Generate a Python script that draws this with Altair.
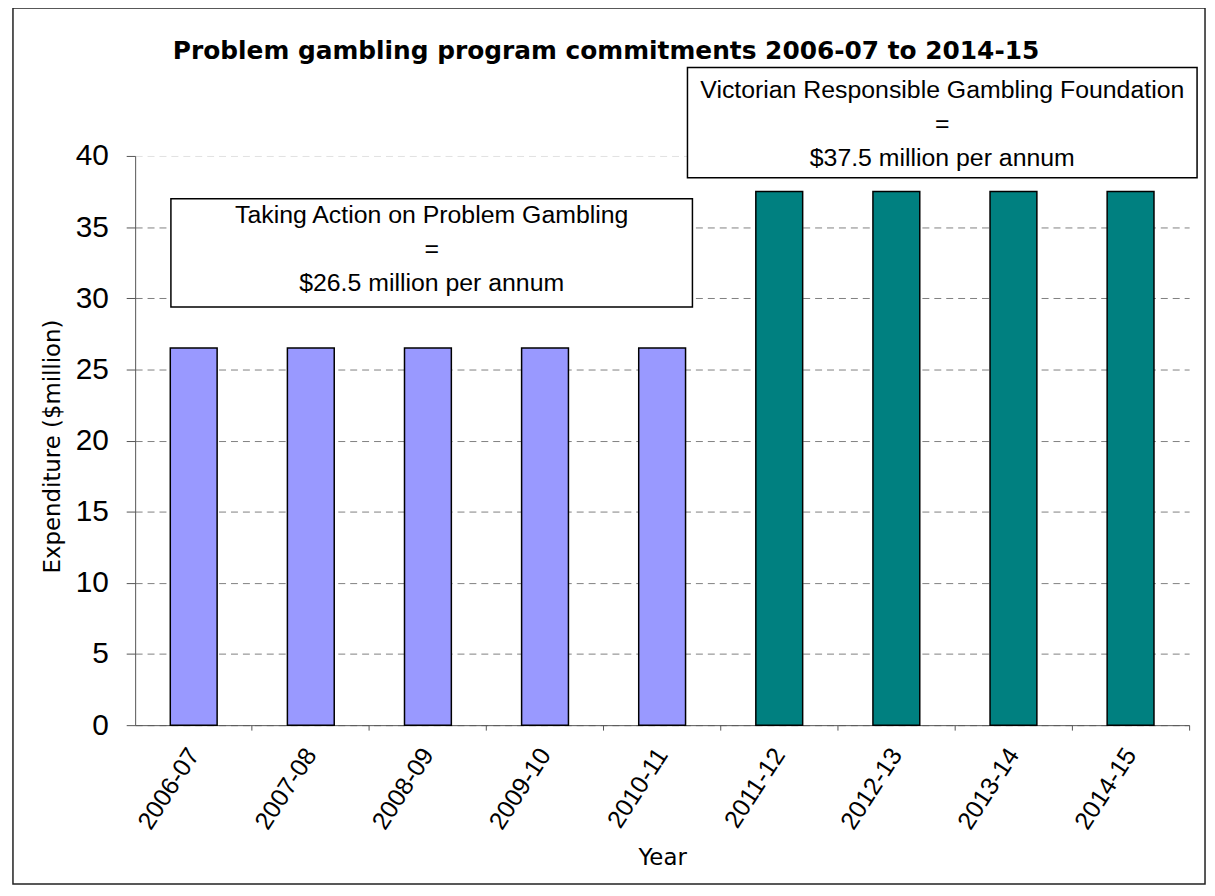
import altair as alt
import pandas as pd

# ---- data ----
years = ["2006-07", "2007-08", "2008-09", "2009-10", "2010-11",
         "2011-12", "2012-13", "2013-14", "2014-15"]
expenditure = [26.5, 26.5, 26.5, 26.5, 26.5, 37.5, 37.5, 37.5, 37.5]
program_of_year = [
    "Taking Action on Problem Gambling",
    "Taking Action on Problem Gambling",
    "Taking Action on Problem Gambling",
    "Taking Action on Problem Gambling",
    "Taking Action on Problem Gambling",
    "Victorian Responsible Gambling Foundation",
    "Victorian Responsible Gambling Foundation",
    "Victorian Responsible Gambling Foundation",
    "Victorian Responsible Gambling Foundation",
]
program_names = ["Taking Action on Problem Gambling",
                 "Victorian Responsible Gambling Foundation"]
program_amounts = ["$26.5 million per annum", "$37.5 million per annum"]
program_colors = ["#9999FF", "#008080"]
y_ticks = [0, 5, 10, 15, 20, 25, 30, 35, 40]
chart_title = "Problem gambling program commitments 2006-07 to 2014-15"
x_title = "Year"
y_title = "Expenditure ($million)"

df = pd.DataFrame({"year": years, "value": expenditure, "program": program_of_year})
one = pd.DataFrame({"k": [0]})

ARIAL = "Liberation Sans"
VERDANA = "DejaVu Sans"

bars = alt.Chart(df).mark_bar(stroke="black", strokeWidth=1.5).encode(
    x=alt.X("year:N", sort=years,
            scale=alt.Scale(paddingInner=0.6, paddingOuter=0.3),
            axis=alt.Axis(title=x_title, labelAngle=-57, labelAlign="right",
                          labelBaseline="middle", labelFont=ARIAL, labelFontSize=25,
                          labelColor="black", labelPadding=20, tickSize=5,
                          bandPosition=1.75,
                          tickColor="#555555", domainColor="#555555",
                          titleFont=VERDANA, titleFontSize=23, titleFontWeight="normal",
                          titleColor="black", titleY=133, titleBaseline="middle",
                          grid=False)),
    y=alt.Y("value:Q", scale=alt.Scale(domain=[0, 40], nice=False),
            axis=alt.Axis(values=y_ticks, title=y_title, tickSize=9, labelPadding=18,
                          labelFont=ARIAL, labelFontSize=30, labelColor="black",
                          tickColor="#555555", domainColor="#555555",
                          grid=True, gridDash=[7, 5], gridColor="#808080",
                          gridOpacity={"condition": {"test": "datum.value == 40", "value": 0.25},
                                       "value": 1},
                          titleFont=VERDANA, titleFontSize=23, titleFontWeight="normal",
                          titleColor="black", titleX=-83, titleY=292,
                          titleBaseline="middle", titleAlign="center")),
    color=alt.Color("program:N", scale=alt.Scale(domain=program_names, range=program_colors),
                    legend=None),
)

frame = alt.Chart(one).mark_rect(fillOpacity=0, stroke="#222222", strokeWidth=1.5).encode(
    x=alt.value(-123), x2=alt.value(1077), y=alt.value(-149), y2=alt.value(733))

box_left = alt.Chart(one).mark_rect(fill="white", stroke="black", strokeWidth=1.5).encode(
    x=alt.value(36), x2=alt.value(561), y=alt.value(43), y2=alt.value(152))
box_right = alt.Chart(one).mark_rect(fill="white", stroke="black", strokeWidth=1.5).encode(
    x=alt.value(556), x2=alt.value(1069), y=alt.value(-89), y2=alt.value(22))

# multi-line text: the first line sits at y, following lines are lineHeight apart
text_left = alt.Chart(one).mark_text(font=ARIAL, fontSize=25, lineHeight=34,
                                     align="center", baseline="middle", color="black").encode(
    x=alt.value(298.5), y=alt.value(60),
    text=alt.value([program_names[0], "=", program_amounts[0]]))
text_right = alt.Chart(one).mark_text(font=ARIAL, fontSize=25, lineHeight=34,
                                      align="center", baseline="middle", color="black").encode(
    x=alt.value(812.5), y=alt.value(-66),
    text=alt.value([program_names[1], "=", program_amounts[1]]))

title = alt.Chart(one).mark_text(font=VERDANA, fontSize=25, fontWeight="bold",
                                 align="center", baseline="alphabetic", color="black").encode(
    x=alt.value(474), y=alt.value(-98), text=alt.value(chart_title))

chart = alt.layer(frame, bars, box_left, box_right, text_left, text_right, title).properties(
    width=1061, height=573,
    autosize=alt.AutoSizeParams(type="none"),
    padding={"left": 128, "top": 146, "right": 18, "bottom": 161},
).configure_view(strokeWidth=0)

chart.save("out.html", embed_options={"renderer": "svg", "actions": False})
